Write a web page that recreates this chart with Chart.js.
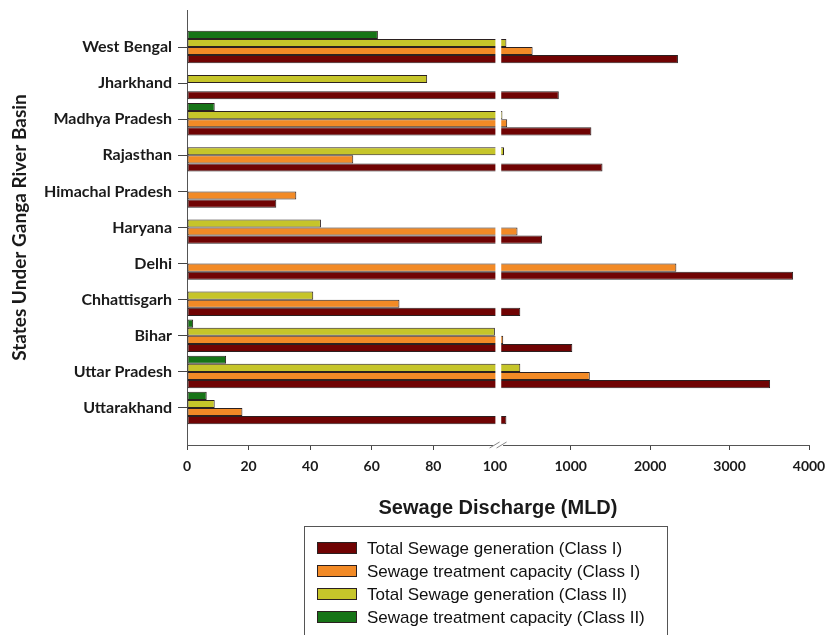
<!DOCTYPE html>
<html>
<head>
<meta charset="utf-8">
<script src="https://cdn.jsdelivr.net/npm/chart.js@4.4.1/dist/chart.umd.min.js"></script>
<style>
  html, body { margin: 0; padding: 0; background: #fff; }
  #wrap { width: 828px; height: 635px; position: relative; }
</style>
</head>
<body>
<div id="wrap"><canvas id="c" width="828" height="635"></canvas></div>
<script>
// ---------- DATA ----------
const categories = ['West Bengal', 'Jharkhand', 'Madhya Pradesh', 'Rajasthan', 'Himachal Pradesh',
  'Haryana', 'Delhi', 'Chhattisgarh', 'Bihar', 'Uttar Pradesh', 'Uttarakhand'];

const totalSewageClassI   = [2350, 850, 1260, 1400, 29, 640, 3800, 365, 1020, 3510, 190];
const treatCapacityClassI = [520, null, 200, 54, 35.5, 330, 2330, 69, 150, 1240, 18];
const totalSewageClassII  = [190, 78, 140, 160, null, 43.5, null, 41, 100, 365, 9];
const treatCapacityClassII = [62, null, 9, null, null, null, null, null, 2, 12.7, 6.4];

const xTickValues = [0, 20, 40, 60, 80, 100, 1000, 2000, 3000, 4000];
const seriesLabels = ['Total Sewage generation (Class I)', 'Sewage treatment capacity (Class I)',
  'Total Sewage generation (Class II)', 'Sewage treatment capacity (Class II)'];

// ---------- BROKEN AXIS ----------
const BREAK_AT = 100, AXIS_MAX = 4000;
const LEFT_FRAC = 0.495, RIGHT_FRAC = 0.502;
function valueToFrac(v) {
  if (v <= BREAK_AT) return v / BREAK_AT * LEFT_FRAC;
  return RIGHT_FRAC + (v - BREAK_AT) / (AXIS_MAX - BREAK_AT) * (1 - RIGHT_FRAC);
}
function fracToValue(f) {
  if (f <= LEFT_FRAC) return f / LEFT_FRAC * BREAK_AT;
  return BREAK_AT + (f - RIGHT_FRAC) / (1 - RIGHT_FRAC) * (AXIS_MAX - BREAK_AT);
}
class BrokenLinearScale extends Chart.LinearScale {
  getPixelForValue(value) { return this.getPixelForDecimal(valueToFrac(value)); }
  getValueForPixel(pixel) { return fracToValue(this.getDecimalForPixel(pixel)); }
}
BrokenLinearScale.id = 'brokenLinear';
BrokenLinearScale.defaults = Chart.LinearScale.defaults;
Chart.register(BrokenLinearScale);

function toPoints(arr) {
  const out = [];
  arr.forEach((v, i) => { if (v !== null) out.push({ x: v, y: i }); });
  return out;
}

const colors = {
  red: '#700303', orange: '#f28a26', yellow: '#c6c52a', green: '#177417'
};

const datasets = [
  { label: seriesLabels[3], data: toPoints(treatCapacityClassII), backgroundColor: colors.green },
  { label: seriesLabels[2], data: toPoints(totalSewageClassII), backgroundColor: colors.yellow },
  { label: seriesLabels[1], data: toPoints(treatCapacityClassI), backgroundColor: colors.orange },
  { label: seriesLabels[0], data: toPoints(totalSewageClassI), backgroundColor: colors.red }
].map(d => Object.assign(d, { borderColor: '#2b2020', borderWidth: 1, borderSkipped: false,
  categoryPercentage: 0.9, barPercentage: 1.0 }));

// white gap through bars + axis break marks
const breakPlugin = {
  id: 'breakPlugin',
  afterDatasetsDraw(chart) {
    const ctx = chart.ctx, xs = chart.scales.x, a = chart.chartArea;
    const x1 = xs.getPixelForValue(BREAK_AT) + 0.5;
    const x2 = xs.getPixelForDecimal(RIGHT_FRAC) + 2;
    ctx.save();
    ctx.fillStyle = '#fff';
    ctx.fillRect(x1, a.top, x2 - x1, a.bottom - a.top - 1);
    ctx.restore();
  },
  afterDraw(chart) {
    const ctx = chart.ctx, xs = chart.scales.x, a = chart.chartArea;
    const xm = (xs.getPixelForValue(BREAK_AT) + xs.getPixelForDecimal(RIGHT_FRAC)) / 2 + 1;
    const y = a.bottom;
    ctx.save();
    ctx.fillStyle = '#fff';
    ctx.fillRect(xm - 5, y - 2, 10, 4);
    ctx.strokeStyle = '#888';
    ctx.lineWidth = 1;
    [-3.5, 3.5].forEach(dx => {
      ctx.beginPath();
      ctx.moveTo(xm + dx - 5, y + 3);
      ctx.lineTo(xm + dx + 5, y - 3);
      ctx.stroke();
    });
    ctx.restore();
  }
};

// boxed vertical legend
const boxLegendPlugin = {
  id: 'boxLegend',
  afterDraw(chart) {
    const ctx = chart.ctx;
    const items = chart.data.datasets.slice().reverse();
    ctx.save();
    ctx.strokeStyle = '#555';
    ctx.lineWidth = 1;
    ctx.strokeRect(304.5, 526.5, 363, 130);
    ctx.font = '17px "Liberation Sans", Arial, sans-serif';
    ctx.textBaseline = 'middle';
    ctx.textAlign = 'left';
    items.forEach((d, i) => {
      const y = 548 + i * 23;
      ctx.fillStyle = d.backgroundColor;
      ctx.fillRect(317, y - 6, 40, 12);
      ctx.strokeStyle = '#2b2020';
      ctx.strokeRect(317.5, y - 5.5, 39, 11);
      ctx.fillStyle = '#111';
      ctx.fillText(d.label, 367, y + 1);
    });
    ctx.restore();
  }
};

new Chart(document.getElementById('c'), {
  type: 'bar',
  data: { datasets },
  plugins: [breakPlugin, boxLegendPlugin],
  options: {
    indexAxis: 'y',
    responsive: false,
    animation: false,
    layout: { padding: { left: 0, right: 19, top: 10, bottom: 115 } },
    plugins: { legend: { display: false }, tooltip: { enabled: false } },
    scales: {
      x: {
        type: 'brokenLinear',
        position: 'bottom',
        min: 0, max: AXIS_MAX,
        afterBuildTicks: s => { s.ticks = xTickValues.map(v => ({ value: v })); },
        afterFit: s => { s.height = 75; s.paddingLeft = 0; s.paddingRight = 0; },
        grid: {
          drawOnChartArea: false, drawTicks: true, tickLength: 5, color: '#444',
          tickColor: c => (c.tick && c.tick.value === BREAK_AT) ? 'rgba(0,0,0,0)' : '#444'
        },
        border: { display: true, color: '#555', width: 1 },
        ticks: {
          autoSkip: false, maxRotation: 0, padding: 8, color: '#1a1a1a',
          font: { family: 'Lato', weight: 'bold', size: 14 },
          callback: v => String(v)
        },
        title: {
          display: true, text: 'Sewage Discharge (MLD)', color: '#1a1a1a',
          font: { family: '"Liberation Sans", Arial, sans-serif', weight: 'bold', size: 20 },
          padding: { top: 0, bottom: 0 }
        }
      },
      y: {
        type: 'linear',
        reverse: true,
        offset: false,
        min: -1.025, max: 11.025,
        afterBuildTicks: s => { s.ticks = categories.map((_, i) => ({ value: i })); },
        afterFit: s => { s.width = 187; s.paddingTop = 0; s.paddingBottom = 0; },
        grid: { offset: false, drawOnChartArea: false, drawTicks: true, tickLength: 9,
          color: '#444', tickColor: '#444', tickWidth: 1 },
        border: { display: true, color: '#555', width: 1 },
        ticks: {
          autoSkip: false, padding: 6, color: '#1a1a1a',
          font: { family: 'Lato', weight: 'bold', size: 16 },
          callback: v => categories[v]
        },
        title: {
          display: true, text: 'States Under Ganga River Basin', color: '#1a1a1a',
          font: { family: 'Lato', weight: 'bold', size: 19 },
          padding: { top: 8, bottom: 0 }
        }
      }
    }
  }
});
</script>
</body>
</html>
